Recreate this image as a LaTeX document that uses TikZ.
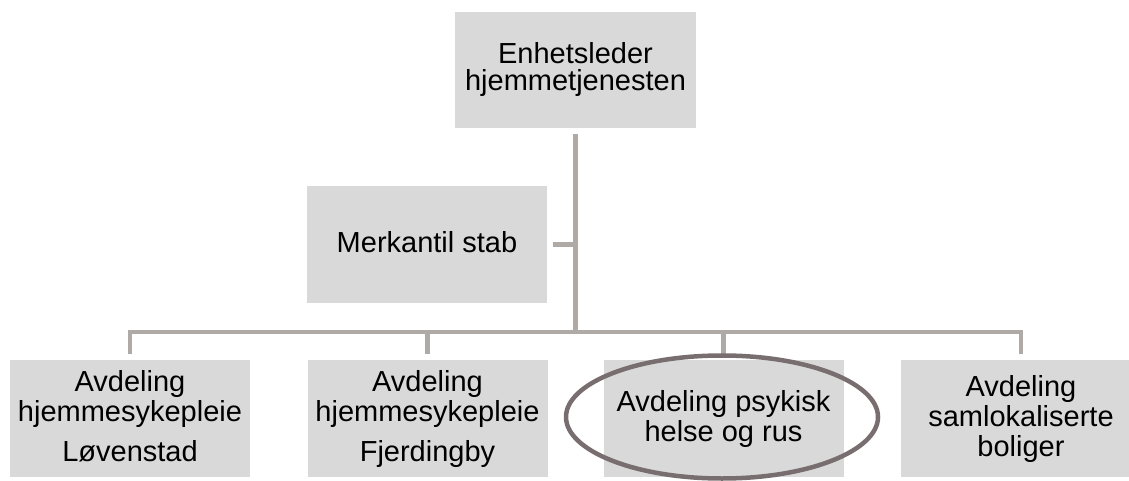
\documentclass[tikz,border=0pt]{standalone}
\usepackage{fontspec}
\setmainfont{Liberation Sans}
\usetikzlibrary{shapes.geometric}
\definecolor{boxfill}{RGB}{217,217,217}
\definecolor{connc}{RGB}{175,170,165}
\definecolor{ellc}{RGB}{120,110,112}
\begin{document}
\begin{tikzpicture}[x=1pt,y=-1pt,
  box/.style={fill=boxfill, minimum width=240pt, minimum height=116pt, inner sep=0pt, outer sep=6pt, align=center, font=\fontsize{29}{27}\selectfont},
  lowbox/.style={box, minimum height=117pt, font=\fontsize{29}{30}\selectfont},
  conn/.style={draw=connc, line width=4.5pt},
  oval/.style={draw=ellc, line width=4.5pt, ellipse, minimum width=312pt, minimum height=123pt, inner sep=0pt, outer sep=0pt}]
\useasboundingbox (0,0) rectangle (1129,481);
\clip (0,0) rectangle (1129,481);

\node[box, minimum width=241pt] (top) at (575.5,70) {Enhetsleder\\hjemmetjenesten};
\node[box, minimum height=117pt, text height=21pt, text depth=6pt] (mk) at (427,244.5) {Merkantil stab};

\node[lowbox] (b1) at (130,418.5) {Avdeling\\hjemmesykepleie\\[10pt]Løvenstad\vphantom{g}};
\node[lowbox] (b2) at (427.5,418.5) {Avdeling\\hjemmesykepleie\\[10pt]Fjerdingby};
\node[lowbox] (b3) at (723.5,418.5) {Avdeling psykisk\\helse og rus};
\node[lowbox] (b4) at (1021,418.5) {Avdeling\\samlokaliserte\\boliger};

\coordinate (bar) at (575,332);
\draw[conn] (top.south) -- (top.south |- bar);
\draw[conn] (mk.east) -- (mk.east -| top.south);
\draw[conn] (b1.north) |- (bar) -| (b4.north);
\draw[conn] (b2.north) -- (b2.north |- bar);
\draw[conn] (b3.north) -- (b3.north |- bar);

\node[oval] (ov) at (722,417) {};
\end{tikzpicture}
\end{document}
